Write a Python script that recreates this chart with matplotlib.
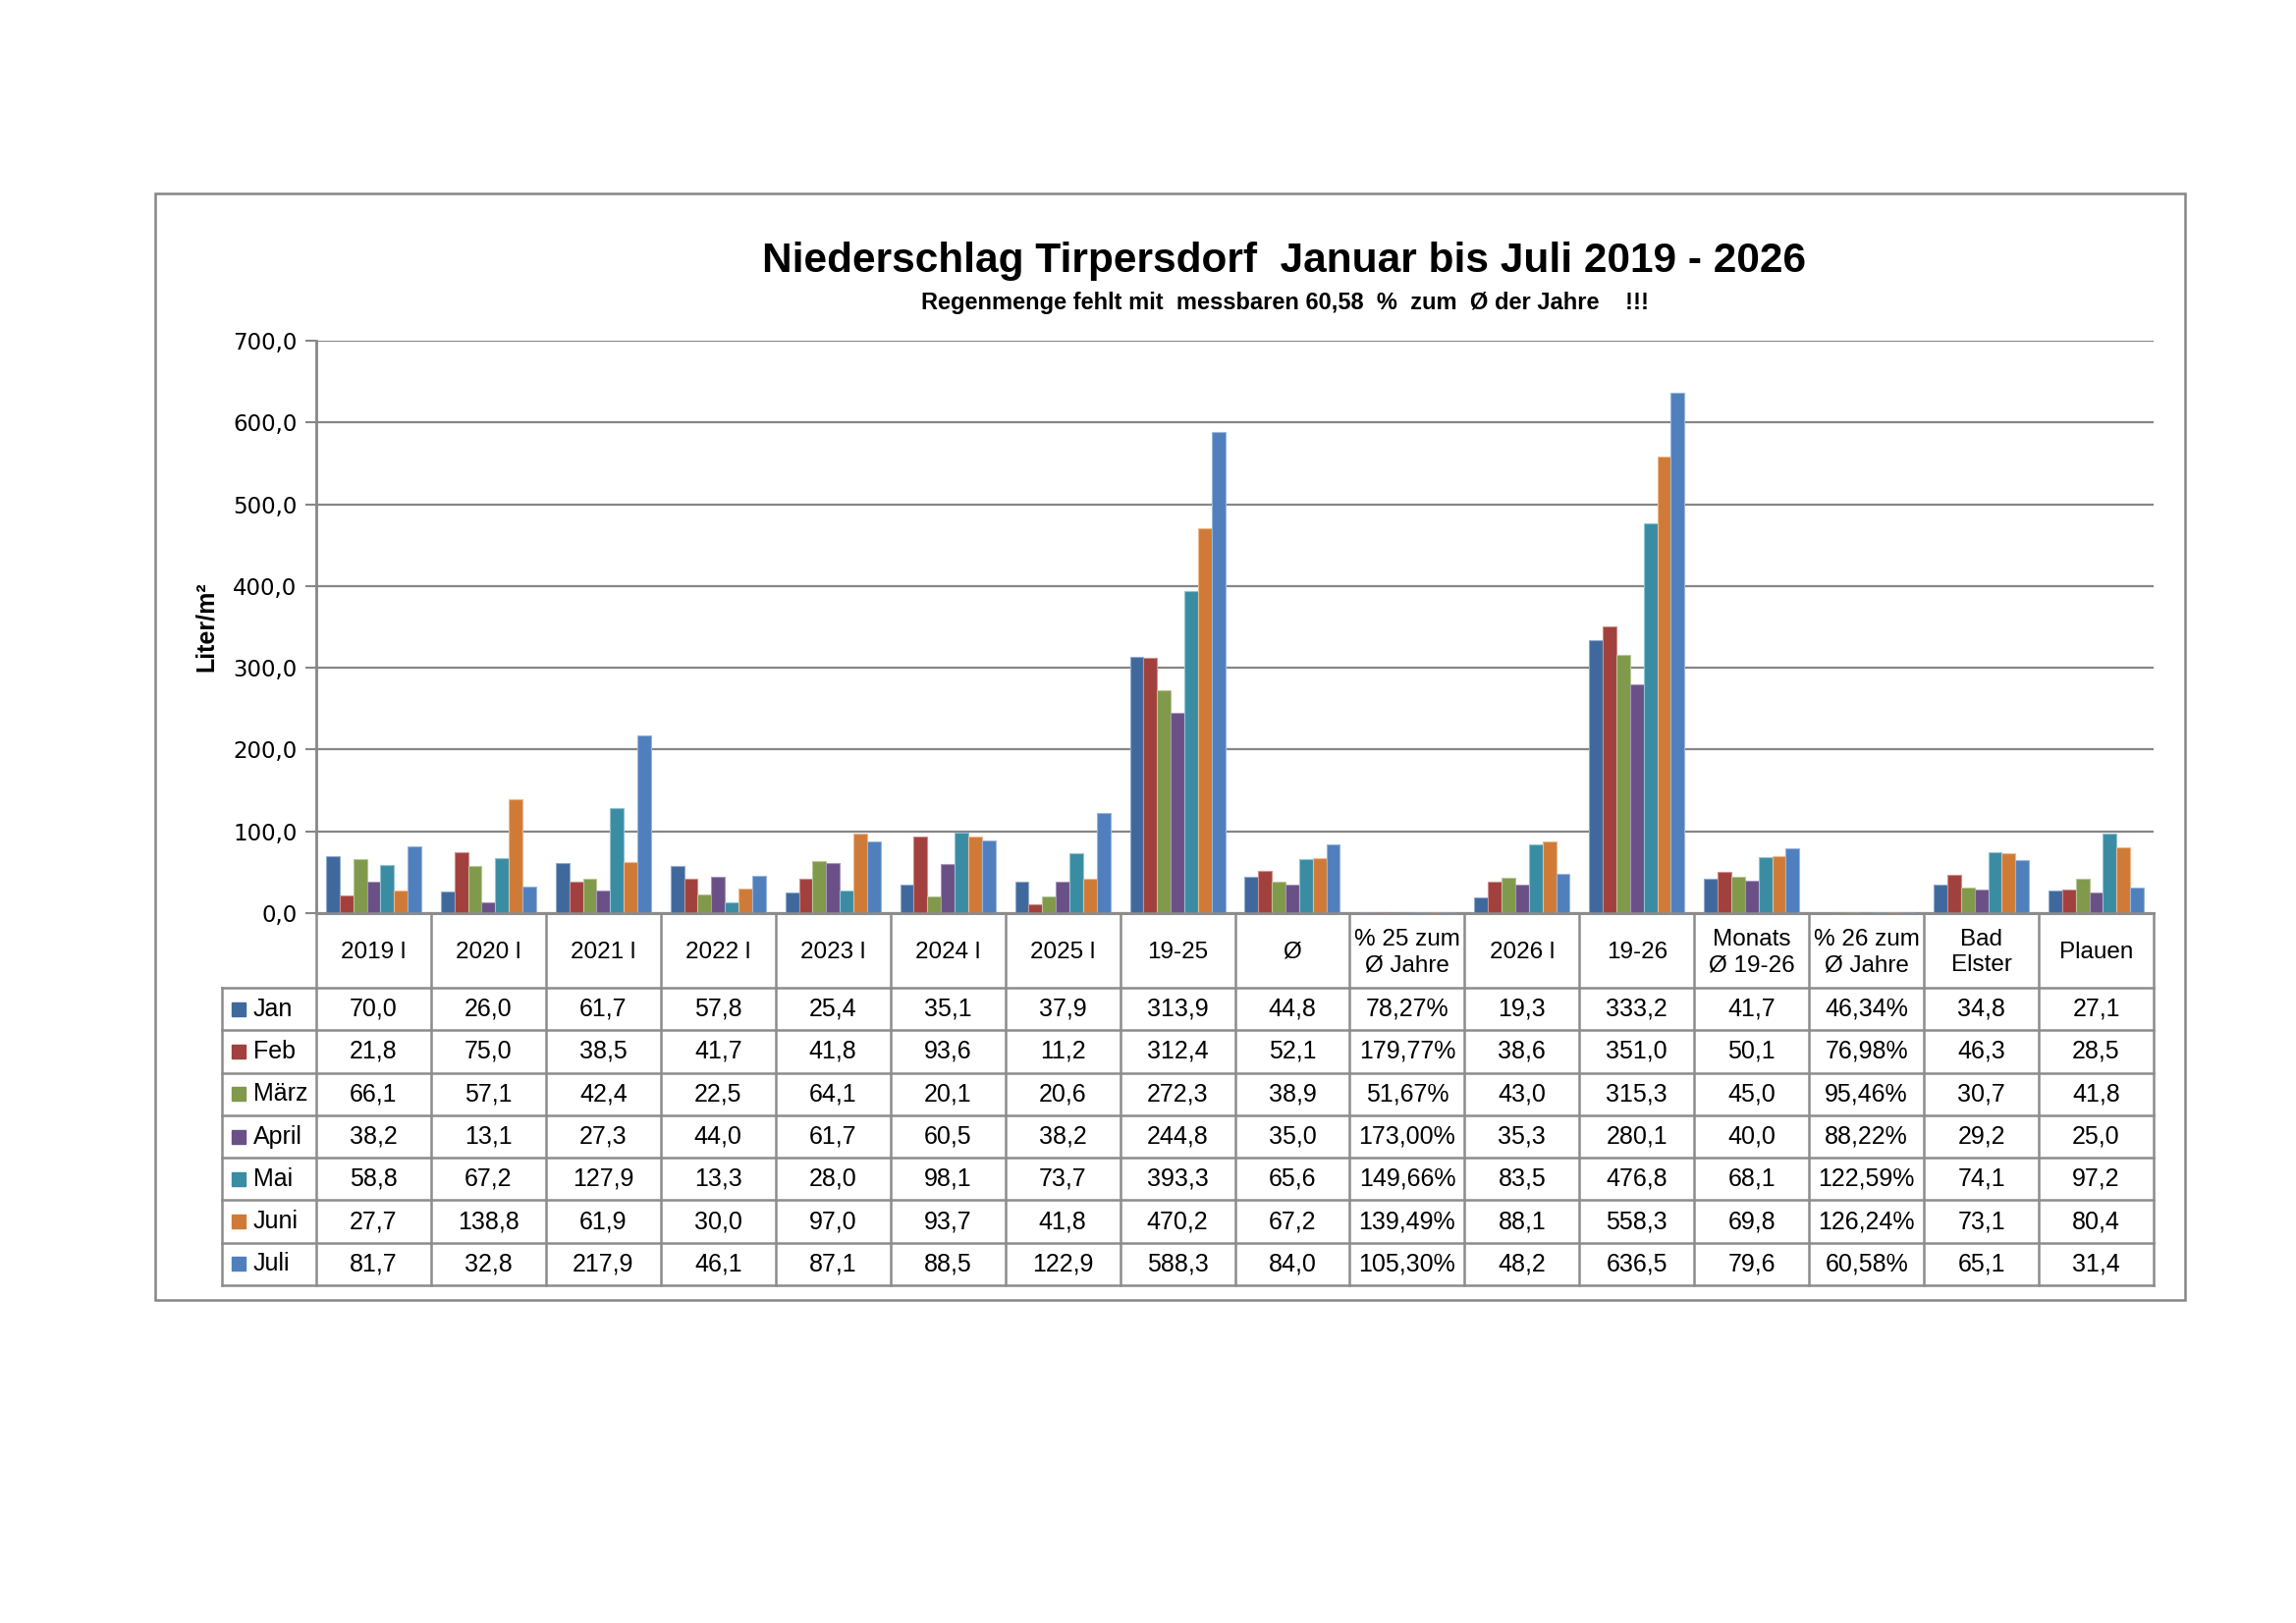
import matplotlib
matplotlib.use("Agg")
import matplotlib.pyplot as plt
import numpy as np
from matplotlib.patches import Rectangle

# ---------------- data ----------------
categories = ["2019 l", "2020 l", "2021 l", "2022 l", "2023 l", "2024 l", "2025 l",
              "19-25", "Ø", "% 25 zum\nØ Jahre", "2026 l", "19-26",
              "Monats\nØ 19-26", "% 26 zum\nØ Jahre", "Bad\nElster", "Plauen"]
percent_cols = [9, 13]
months = ["Jan", "Feb", "März", "April", "Mai", "Juni", "Juli"]

jan   = [70.0, 26.0, 61.7, 57.8, 25.4, 35.1, 37.9, 313.9, 44.8, 0.7827, 19.3, 333.2, 41.7, 0.4634, 34.8, 27.1]
feb   = [21.8, 75.0, 38.5, 41.7, 41.8, 93.6, 11.2, 312.4, 52.1, 1.7977, 38.6, 351.0, 50.1, 0.7698, 46.3, 28.5]
maerz = [66.1, 57.1, 42.4, 22.5, 64.1, 20.1, 20.6, 272.3, 38.9, 0.5167, 43.0, 315.3, 45.0, 0.9546, 30.7, 41.8]
april = [38.2, 13.1, 27.3, 44.0, 61.7, 60.5, 38.2, 244.8, 35.0, 1.7300, 35.3, 280.1, 40.0, 0.8822, 29.2, 25.0]
mai   = [58.8, 67.2, 127.9, 13.3, 28.0, 98.1, 73.7, 393.3, 65.6, 1.4966, 83.5, 476.8, 68.1, 1.2259, 74.1, 97.2]
juni  = [27.7, 138.8, 61.9, 30.0, 97.0, 93.7, 41.8, 470.2, 67.2, 1.3949, 88.1, 558.3, 69.8, 1.2624, 73.1, 80.4]
juli  = [81.7, 32.8, 217.9, 46.1, 87.1, 88.5, 122.9, 588.3, 84.0, 1.0530, 48.2, 636.5, 79.6, 0.6058, 65.1, 31.4]
series = [jan, feb, maerz, april, mai, juni, juli]

yticks = [0, 100, 200, 300, 400, 500, 600, 700]

title = "Niederschlag Tirpersdorf  Januar bis Juli 2019 - 2026"
subtitle = "Regenmenge fehlt mit  messbaren 60,58  %  zum  Ø der Jahre    !!!"

# ---------------- style ----------------
colors = ["#3F699D", "#A1403C", "#80994A", "#6A5087", "#3A8CA3", "#CF7B37", "#4F80BD"]
edges = ["#8FA9CC", "#CC8E8B", "#B5C795", "#A596BA", "#8FC3D1", "#EDB88E", "#98B5DA"]
gray = "#868686"
tfont = ["Liberation Sans", "DejaVu Sans"]

W, H = 2338, 1653
fig = plt.figure(figsize=(W / 100, H / 100), dpi=100)
fig.patch.set_facecolor("white")

# outer chart frame
fig.patches.append(Rectangle((158 / W, 1 - 1324 / H), (2225 - 158) / W, (1324 - 197) / H,
                             transform=fig.transFigure, fill=False, edgecolor=gray, lw=1.8))

# plot area
pl, pr, pt, pb = 322, 2193, 347, 930
ax = fig.add_axes([pl / W, 1 - pb / H, (pr - pl) / W, (pb - pt) / H])
n = len(categories)
x = np.arange(n)
bw = 0.83 / 7
for i, (vals, c, e) in enumerate(zip(series, colors, edges)):
    ax.bar(x + (i - 3) * bw, vals, bw, color=c, edgecolor=e, linewidth=0.8, zorder=3)
ax.set_xlim(-0.5, n - 0.5)
ax.set_ylim(0, 700)
ax.set_yticks(yticks)
ax.set_yticklabels([f"{v:.1f}".replace(".", ",") for v in yticks],
                   fontsize=16.5, family="DejaVu Sans")
ax.tick_params(axis="y", length=8, width=1.5, color=gray, pad=6)
ax.set_xticks([])
ax.yaxis.grid(True, color=gray, lw=1.6, zorder=0)
for s in ["top", "right"]:
    ax.spines[s].set_visible(False)
for s in ["left", "bottom"]:
    ax.spines[s].set_color(gray)
    ax.spines[s].set_linewidth(2)

fig.text(210 / W, 1 - 638 / H, "Liter/m²", rotation=90, ha="center", va="center",
         fontsize=18, fontweight="bold", family=tfont)
fig.text(1308 / W, 1 - 277 / H, title, ha="center", va="baseline",
         fontsize=30.5, fontweight="bold", family=tfont)
fig.text(1308 / W, 1 - 309 / H, subtitle, ha="center", va="center",
         fontsize=17, fontweight="bold", family=tfont)

# data table
tl, tb = 226, 1309
hh = 76
rh = (tb - pb - hh) / 7
leg_w = (pl - tl) / ((pr - pl) / n)
tax = fig.add_axes([tl / W, 1 - tb / H, (pr - tl) / W, (tb - pb) / H])
tax.set_xlim(-0.5 - leg_w, n - 0.5)
tax.set_ylim(tb - pb, 0)
tax.axis("off")
lc = "#8C8C8C"
lw = 1.8
for k in range(n + 1):
    tax.plot([k - 0.5, k - 0.5], [0, tb - pb], color=lc, lw=lw, clip_on=False)
tax.plot([-0.5 - leg_w, -0.5 - leg_w], [hh, tb - pb], color=lc, lw=lw, clip_on=False)
tax.plot([-0.5, n - 0.5], [0, 0], color=lc, lw=lw, clip_on=False)
for r in range(8):
    yy = hh + r * rh
    tax.plot([-0.5 - leg_w, n - 0.5], [yy, yy], color=lc, lw=lw, clip_on=False)

for j, cat in enumerate(categories):
    tax.text(j, hh / 2 + 2, cat, ha="center", va="center", fontsize=17.5,
             family=tfont, linespacing=1.25)

sq = 14
px_per_unit = (pr - tl) / (n + leg_w)
for r, (m, vals, c) in enumerate(zip(months, series, colors)):
    yc = hh + (r + 0.5) * rh
    x0 = -0.5 - leg_w + 10 / px_per_unit
    tax.add_patch(Rectangle((x0, yc - sq / 2), sq / px_per_unit, sq, color=c, clip_on=False))
    tax.text(x0 + 22 / px_per_unit, yc, m, ha="left", va="center", fontsize=18, family=tfont)
    for j, v in enumerate(vals):
        if j in percent_cols:
            s = f"{v * 100:.2f}%".replace(".", ",")
        else:
            s = f"{v:.1f}".replace(".", ",")
        tax.text(j, yc, s, ha="center", va="center", fontsize=18, family=tfont)

fig.savefig("out.png", dpi=100, facecolor="white")
